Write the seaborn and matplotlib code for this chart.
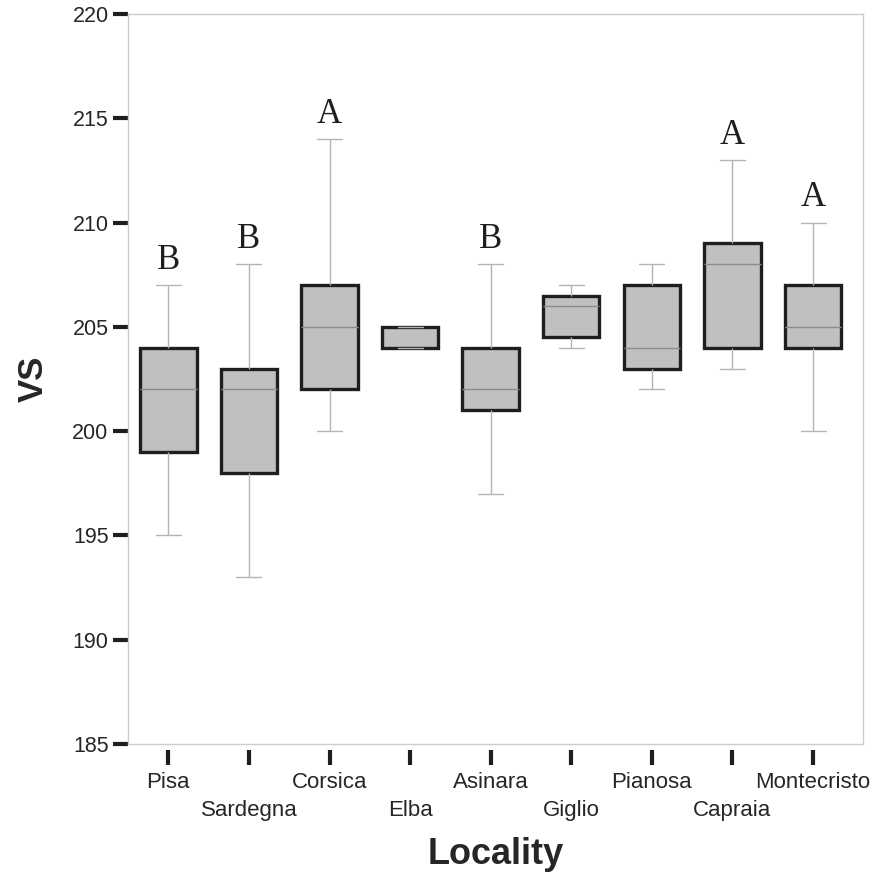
import pandas as pd
import matplotlib
matplotlib.use("Agg")
import matplotlib.pyplot as plt
import seaborn as sns

# five-number summaries (min, q1, median, q3, max)
localities = ["Pisa", "Sardegna", "Corsica", "Elba", "Asinara",
              "Giglio", "Pianosa", "Capraia", "Montecristo"]
pisa = [195, 199, 202, 204, 207]
sardegna = [193, 198, 202, 203, 208]
corsica = [200, 202, 205, 207, 214]
elba = [204, 204, 204, 205, 205]
asinara = [197, 201, 202, 204, 208]
giglio = [204, 204.5, 206, 206.5, 207]
pianosa = [202, 203, 204, 207, 208]
capraia = [203, 204, 208, 209, 213]
montecristo = [200, 204, 205, 207, 210]
letters = ["B", "B", "A", "", "B", "", "", "A", "A"]

values = [pisa, sardegna, corsica, elba, asinara, giglio, pianosa, capraia, montecristo]
rows = []
for loc, vals in zip(localities, values):
    for v in vals:
        rows.append({"Locality": loc, "VS": v})
df = pd.DataFrame(rows)

sns.set_style("white")
plt.rcParams['font.family'] = ['Liberation Sans', 'DejaVu Sans']

fig = plt.figure(figsize=(8.74, 8.72), dpi=100)
ax = fig.add_axes([0.1465, 0.1468, 0.8409, 0.8371])

grey = "#b4b4b4"
sns.boxplot(data=df, x="Locality", y="VS", order=localities, ax=ax,
            width=0.7, color="#bfc0c2", whis=1.5, showfliers=False,
            capwidths=0.31,
            boxprops=dict(edgecolor="#1e1e1e", linewidth=2.4, facecolor="#bfc0c2"),
            whiskerprops=dict(color=grey, linewidth=1.0),
            capprops=dict(color=grey, linewidth=1.0),
            medianprops=dict(color="#8c8c8c", linewidth=1.0))

# a median sitting on the box edge is hidden behind the box (Elba)
for line in ax.lines:
    ys = line.get_ydata()
    xs = line.get_xdata()
    if len(ys) == 2 and ys[0] == ys[1] and abs(xs[1] - xs[0]) > 0.6:
        for i, vals in enumerate(values):
            if abs((xs[0] + xs[1]) / 2 - i) < 0.1 and ys[0] == vals[2]:
                if vals[2] == vals[1] or vals[2] == vals[3]:
                    line.set_zorder(1)

# significance letters above the upper whiskers
for i, (vals, let) in enumerate(zip(values, letters)):
    if let:
        ax.annotate(let, xy=(i, max(vals)), xytext=(0, 6), textcoords="offset points",
                    ha="center", va="bottom", fontsize=25,
                    family=["Liberation Serif", "DejaVu Serif"], color="#1e1e1e")

ax.set_ylim(185, 220)
ax.set_xlim(-0.5, 8.62)
ax.set_yticks(range(185, 221, 5))

for s in ["left", "top", "right"]:
    ax.spines[s].set_color("#cccccc")
    ax.spines[s].set_linewidth(1.0)
ax.spines["bottom"].set_position(("outward", 4))
ax.spines["bottom"].set_visible(False)
ax.axhline(185, color="#cccccc", linewidth=1.0, clip_on=False)

ax.tick_params(axis="y", direction="out", length=11, width=3, color="#1e1e1e",
               labelsize=15.5, pad=3, left=True)

# stagger the category labels on two rows: even ones major, odd ones minor
even = list(range(0, len(localities), 2))
odd = list(range(1, len(localities), 2))
ax.set_xticks(even)
ax.set_xticklabels([localities[i] for i in even])
ax.set_xticks(odd, minor=True)
ax.set_xticklabels([localities[i] for i in odd], minor=True)
ax.tick_params(axis="x", which="major", direction="out", length=11, width=3,
               color="#1e1e1e", labelsize=16, pad=5, bottom=True)
ax.tick_params(axis="x", which="minor", direction="out", length=11, width=3,
               color="#1e1e1e", labelsize=16, pad=25.5, bottom=True)

ax.set_xlabel("Locality", fontsize=26, fontweight="bold", labelpad=11)
ax.set_ylabel("VS", fontsize=25, fontweight="bold", labelpad=16)

plt.savefig("out.png", dpi=100)
plt.close()
